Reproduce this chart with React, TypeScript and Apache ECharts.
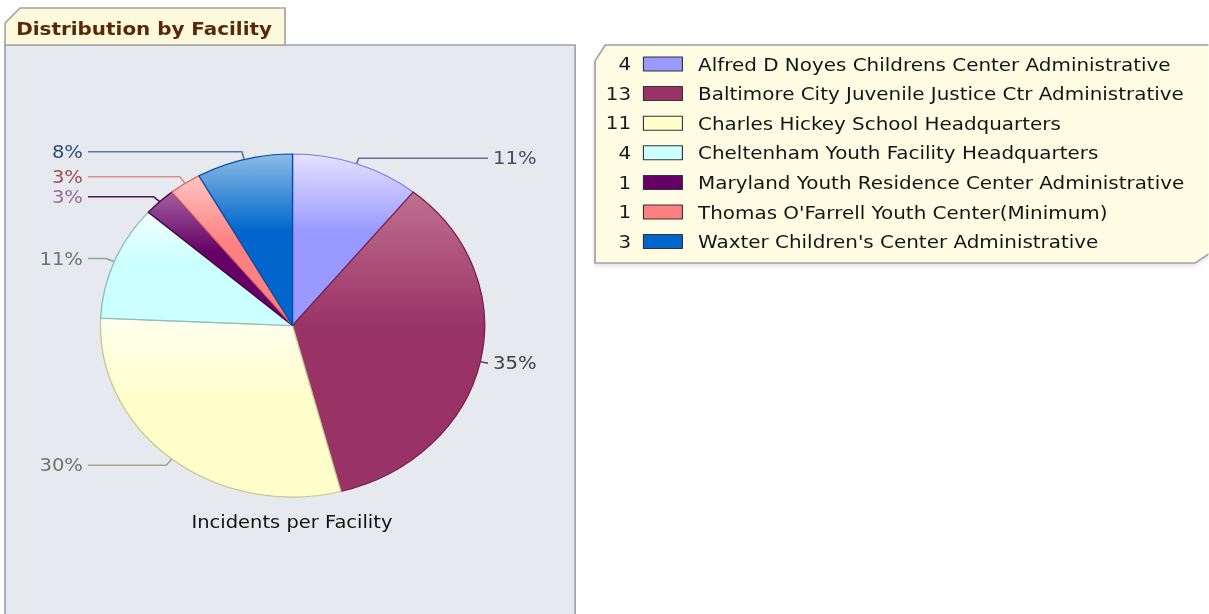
import React, { useEffect, useRef } from "react";
import * as echarts from "echarts";

// ---- data ----
const facilities = [
  "Alfred D Noyes Childrens Center Administrative",
  "Baltimore City Juvenile Justice Ctr Administrative",
  "Charles Hickey School Headquarters",
  "Cheltenham Youth Facility Headquarters",
  "Maryland Youth Residence Center Administrative",
  "Thomas O'Farrell Youth Center(Minimum)",
  "Waxter Children's Center Administrative",
];
const incidents = [4, 13, 11, 4, 1, 1, 3];
const seriesTitle = "Incidents per Facility";
const panelTitle = "Distribution by Facility";

// ---- styles ----
const baseColors = ["#9999ff", "#993366", "#ffffcc", "#ccffff", "#660066", "#ff8080", "#0066cc"];
const lightColors = ["#e6e2ff", "#c0708f", "#ffffee", "#f2ffff", "#a060a0", "#ffc4c4", "#8cbbe6"];
const rimColors = ["#7a7ae8", "#7a2050", "#c8c890", "#8cbcbc", "#440044", "#d86060", "#0050a8"];
const labelColors = ["#4a4a68", "#404040", "#707070", "#6a7474", "#9a6a9a", "#a04a55", "#2d4a7a"];
const lineColors = ["#6a6a8c", "#6a3050", "#a8a890", "#8aa4a4", "#4a1a4a", "#d89090", "#5a7aa8"];

const SX = 1.12;
const W = 1209 / SX;
const FONT = "DejaVu Sans";

export default function App() {
  const ref = useRef<HTMLDivElement>(null);

  useEffect(() => {
    document.body.style.margin = "0";
    const chart = echarts.init(ref.current!, null, { renderer: "svg" });
    const total = incidents.reduce((a, b) => a + b, 0);
    const cx = 261.2;
    const cy = 325.5;
    const rowY0 = 64;
    const rowStep = 29.6;
    const labelBox = 40;
    const edgeDist = 34.1;
    const viewW = 514.3;
    const gap = 4.5;
    const leftColX = edgeDist + labelBox + gap;
    const rightColX = viewW - edgeDist - labelBox - gap;

    let acc = 0;
    const sides = incidents.map((v) => {
      const mid = (acc + v / 2) / total;
      acc += v;
      return mid < 0.5 ? "right" : "left";
    });

    const rich: any = {};
    incidents.forEach((_, i) => {
      rich["t" + i] = {
        align: sides[i] === "left" ? "right" : "left",
        color: labelColors[i],
        fontFamily: FONT,
        fontSize: 17.5,
      };
    });

    const option: any = {
      animation: false,
      backgroundColor: "#ffffff",
      graphic: [
        {
          type: "rect",
          z: -10,
          shape: { x: 4.5, y: 45, width: 509, height: 600 },
          style: { fill: "#e6e9ed", stroke: "#9ea4ab", lineWidth: 1.5 },
        },
        {
          type: "polygon",
          z: -9,
          shape: {
            points: [
              [4.5, 45],
              [4.5, 23],
              [17.9, 8],
              [254.5, 8],
              [254.5, 45],
            ],
          },
          style: { fill: "#fcf9dc", stroke: "#a4a4a4", lineWidth: 1.5 },
        },
        {
          type: "text",
          z: -8,
          x: 14.5,
          y: 28.5,
          style: {
            text: panelTitle,
            font: `bold 17.8px '${FONT}'`,
            fill: "#5a2808",
            align: "left",
            verticalAlign: "middle",
          },
        },
        {
          type: "polygon",
          z: -10,
          shape: {
            points: [
              [531.3, 263],
              [531.3, 61],
              [540.5, 45],
              [1090, 45],
              [1090, 246],
              [1067, 263],
            ],
          },
          style: {
            fill: "#fefde4",
            stroke: "#a0a0a0",
            lineWidth: 1.5,
            shadowBlur: 4,
            shadowColor: "rgba(0,0,0,0.12)",
            shadowOffsetY: 2,
          },
        },
        ...incidents.map((v, i) => ({
          type: "text",
          z: 5,
          x: 563.4,
          y: rowY0 + i * rowStep,
          style: {
            text: String(v),
            font: `17.7px '${FONT}'`,
            fill: "#1a1a1a",
            align: "right",
            verticalAlign: "middle",
          },
        })),
        {
          type: "text",
          z: 5,
          x: 260.7,
          y: 522,
          style: {
            text: seriesTitle,
            font: `17.4px '${FONT}'`,
            fill: "#111111",
            align: "center",
            verticalAlign: "middle",
          },
        },
      ],
      legend: {
        orient: "vertical",
        left: 574,
        top: rowY0 - 10,
        padding: 0,
        itemWidth: 34.8,
        itemHeight: 14,
        itemGap: rowStep - 20,
        icon: "rect",
        selectedMode: false,
        itemStyle: { borderColor: "#333333", borderWidth: 1 },
        textStyle: {
          fontFamily: FONT,
          fontSize: 17.8,
          color: "#151515",
          lineHeight: 20,
          padding: [0, 0, 0, 9],
        },
        data: facilities.map((name, i) => ({
          name,
          itemStyle: { color: baseColors[i], borderColor: "#333333", borderWidth: 1 },
        })),
      },
      series: [
        {
          type: "pie",
          left: 0,
          top: 0,
          width: viewW,
          height: 614,
          center: [cx, cy],
          radius: 171.5,
          startAngle: 90,
          clockwise: true,
          avoidLabelOverlap: true,
          label: {
            show: true,
            position: "outside",
            alignTo: "edge",
            edgeDistance: edgeDist,
            distanceToLabelLine: 4,
            width: labelBox,
            overflow: "none",
            fontFamily: FONT,
            fontSize: 17.5,
            formatter: (p: any) =>
              `{t${p.dataIndex}|${Math.round((p.value / total) * 100)}%}`,
            rich,
          },
          labelLayout: (params: any) => {
            const pts = params.labelLinePoints;
            if (!pts || pts.length < 3) return {};
            const colX = sides[params.dataIndex] === "left" ? leftColX : rightColX;
            return {
              labelLinePoints: [
                [pts[0][0], pts[0][1]],
                [pts[1][0], pts[1][1]],
                [colX, pts[2][1]],
              ],
            };
          },
          labelLine: { show: true, length: 8, length2: 14, smooth: false, lineStyle: { width: 1.5 } },
          emphasis: { disabled: true },
          data: facilities.map((name, i) => ({
            name,
            value: incidents[i],
            itemStyle: {
              color: new echarts.graphic.LinearGradient(0, 0, 0, 1, [
                { offset: 0, color: lightColors[i] },
                { offset: 0.45, color: baseColors[i] },
                { offset: 1, color: baseColors[i] },
              ]),
              borderColor: rimColors[i],
              borderWidth: 1.2,
            },
            labelLine: {
              length: sides[i] === "left" ? 8 : 6,
              length2: sides[i] === "left" ? 14 : 0,
              lineStyle: { color: lineColors[i], width: 1.5 },
            },
          })),
        },
      ],
    };
    chart.setOption(option);
    return () => chart.dispose();
  }, []);

  return (
    <div
      style={{
        position: "absolute",
        left: 0,
        top: 0,
        width: 1209,
        height: 614,
        overflow: "hidden",
        background: "#ffffff",
      }}
    >
      <div
        ref={ref}
        style={{
          width: W,
          height: 614,
          transform: `scaleX(${SX})`,
          transformOrigin: "0 0",
        }}
      />
    </div>
  );
}
